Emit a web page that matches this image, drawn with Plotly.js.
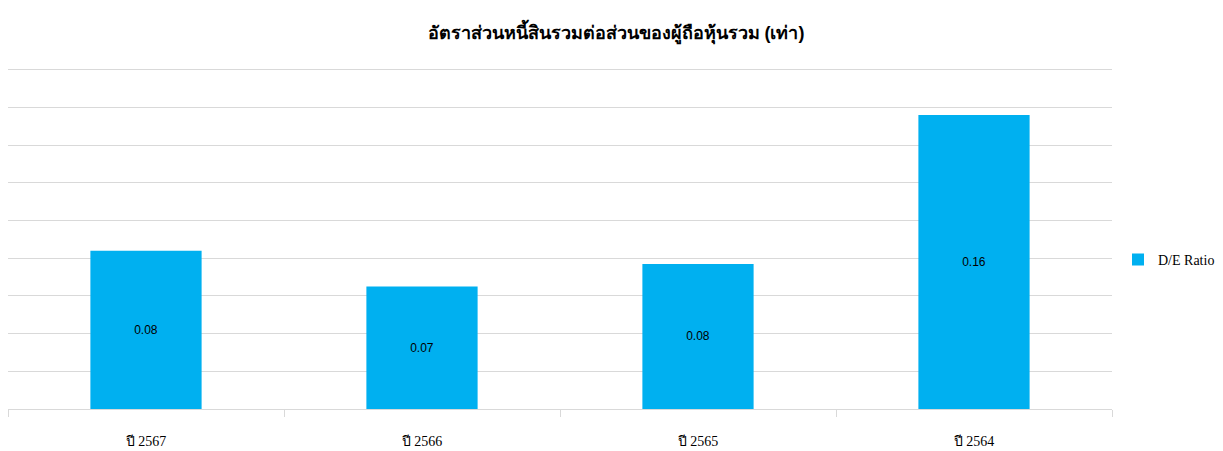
<!DOCTYPE html>
<html>
<head>
<meta charset="utf-8">
<script src="https://cdn.plot.ly/plotly-3.0.1.min.js"></script>
<style>html,body{margin:0;padding:0;background:#fff;}#chart{width:1223px;height:451px;}</style>
</head>
<body>
<div id="chart"></div>
<script>
const categories = ["ปี 2567", "ปี 2566", "ปี 2565", "ปี 2564"];
const deRatio = [0.084, 0.065, 0.077, 0.156];
const deLabels = ["0.08", "0.07", "0.08", "0.16"];
const seriesName = "D/E Ratio";
const chartTitle = "อัตราส่วนหนี้สินรวมต่อส่วนของผู้ถือหุ้นรวม (เท่า)";

const trace = {
  type: "bar",
  x: categories,
  y: deRatio,
  name: seriesName,
  text: deLabels,
  textposition: "inside",
  insidetextanchor: "middle",
  textangle: 0,
  constraintext: "none",
  textfont: {family: "Liberation Sans, Arial, sans-serif", size: 12, color: "#000"},
  marker: {color: "#00B0F0", line: {width: 0}},
  hoverinfo: "none",
  showlegend: true
};

const layout = {
  width: 1223,
  height: 451,
  paper_bgcolor: "#fff",
  plot_bgcolor: "#fff",
  margin: {l: 8, r: 111, t: 66, b: 42, autoexpand: false},
  title: {
    text: "<b>" + chartTitle + "</b>",
    font: {family: "Liberation Sans, Arial, sans-serif", size: 18, color: "#000"},
    x: 616/1223, xanchor: "center", xref: "container",
    y: 1 - 33/451, yanchor: "middle"
  },
  bargap: 0.597,
  xaxis: {
    type: "category",
    showline: true,
    linecolor: "#d9d9d9",
    linewidth: 1,
    ticks: "outside",
    tickson: "boundaries",
    ticklen: 7,
    tickcolor: "#d9d9d9",
    tickwidth: 1,
    showgrid: false,
    ticklabelstandoff: 19,
    tickfont: {family: "Liberation Serif, Times New Roman, serif", size: 14, color: "#000"}
  },
  yaxis: {
    range: [0, 0.182],
    tick0: 0,
    dtick: 0.02,
    showticklabels: false,
    showgrid: true,
    gridcolor: "#d9d9d9",
    gridwidth: 1,
    zeroline: false,
    showline: false
  },
  legend: {
    xref: "container",
    x: 1118/1223, xanchor: "left",
    y: 0.435, yanchor: "middle",
    font: {family: "Liberation Serif, Times New Roman, serif", size: 14, color: "#000"},
    bgcolor: "rgba(0,0,0,0)"
  }
};

Plotly.newPlot("chart", [trace], layout, {staticPlot: true, displayModeBar: false});
</script>
</body>
</html>
